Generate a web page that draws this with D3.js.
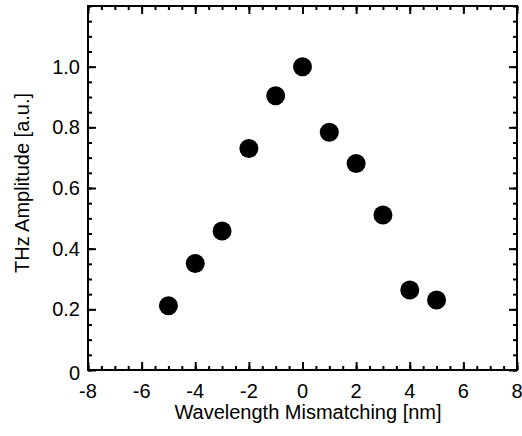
<!DOCTYPE html>
<html><head><meta charset="utf-8">
<script src="https://cdn.jsdelivr.net/npm/d3@7"></script>
<style>body{margin:0;background:#fff}svg{display:block}text{font-family:"Liberation Sans",Arial,sans-serif;fill:#000}</style>
</head><body>
<script>
const mismatch = [-5, -4, -3, -2, -1, 0, 1, 2, 3, 4, 5];
const amplitude = [0.212, 0.351, 0.458, 0.730, 0.904, 1.0, 0.784, 0.681, 0.511, 0.264, 0.231];
const xTicks = [-8, -6, -4, -2, 0, 2, 4, 6, 8];
const xTickLabels = ["-8", "-6", "-4", "-2", "0", "2", "4", "6", "8"];
const yTicks = [0, 0.2, 0.4, 0.6, 0.8, 1.0];
const yTickLabels = ["0", "0.2", "0.4", "0.6", "0.8", "1.0"];
const xTitle = "Wavelength Mismatching [nm]";
const yTitle = "THz Amplitude [a.u.]";

const W = 522, H = 436;
const L = 88, R = 517, T = 6, B = 370;
const svg = d3.select("body").append("svg").attr("width", W).attr("height", H)
  .attr("viewBox", `0 0 ${W} ${H}`);
const x = d3.scaleLinear().domain([-8, 8]).range([L, R]);
const y = d3.scaleLinear().domain([0, 1.2]).range([B, T]);

svg.append("rect").attr("x", L).attr("y", T).attr("width", R - L).attr("height", B - T)
  .attr("fill", "none").attr("stroke", "#000").attr("stroke-width", 2);

svg.append("g").selectAll("circle").data(mismatch).join("circle")
  .attr("cx", d => x(d)).attr("cy", (d, i) => y(amplitude[i])).attr("r", 9.5).attr("fill", "#000");

svg.append("g").selectAll("text").data(xTicks).join("text")
  .attr("x", d => x(d)).attr("y", 398).attr("text-anchor", "middle")
  .style("font-size", "20px").text((d, i) => xTickLabels[i]);
svg.append("g").selectAll("text").data(yTicks).join("text")
  .attr("x", 80).attr("y", d => y(d) + 7 + (d === 0 ? 3 : 0)).attr("text-anchor", "end")
  .style("font-size", "20px").text((d, i) => yTickLabels[i]);

svg.append("text").attr("x", 308).attr("y", 419).attr("text-anchor", "middle")
  .style("font-size", "20px").text(xTitle);
svg.append("text").attr("transform", `translate(29,183) rotate(-90)`).attr("text-anchor", "middle")
  .style("font-size", "20px").text(yTitle);

// inward ticks on all four sides via d3 axes (minor every 0.5 / 0.05, major at labelled values)
const xMinor = d3.range(-16, 17).map(d => d / 2);
const yMinor = d3.range(0, 25).map(d => d / 20);
function tickAxis(axis, vals, size, tx, ty) {
  const g = svg.append("g").attr("transform", `translate(${tx},${ty})`)
    .call(axis.tickValues(vals).tickSizeInner(size).tickSizeOuter(0).tickFormat(() => ""));
  g.select(".domain").remove();
  g.selectAll(".tick line").attr("stroke", "#000").attr("stroke-width", 2);
  g.selectAll(".tick text").remove();
}
tickAxis(d3.axisTop(x), xMinor, 4, 0, B);
tickAxis(d3.axisTop(x), xTicks, 8, 0, B);
tickAxis(d3.axisBottom(x), xMinor, 4, 0, T);
tickAxis(d3.axisBottom(x), xTicks, 8, 0, T);
tickAxis(d3.axisRight(y), yMinor, 4, L, 0);
tickAxis(d3.axisRight(y), yTicks, 8, L, 0);
tickAxis(d3.axisLeft(y), yMinor, 4, R, 0);
tickAxis(d3.axisLeft(y), yTicks, 8, R, 0);
</script>
</body></html>
